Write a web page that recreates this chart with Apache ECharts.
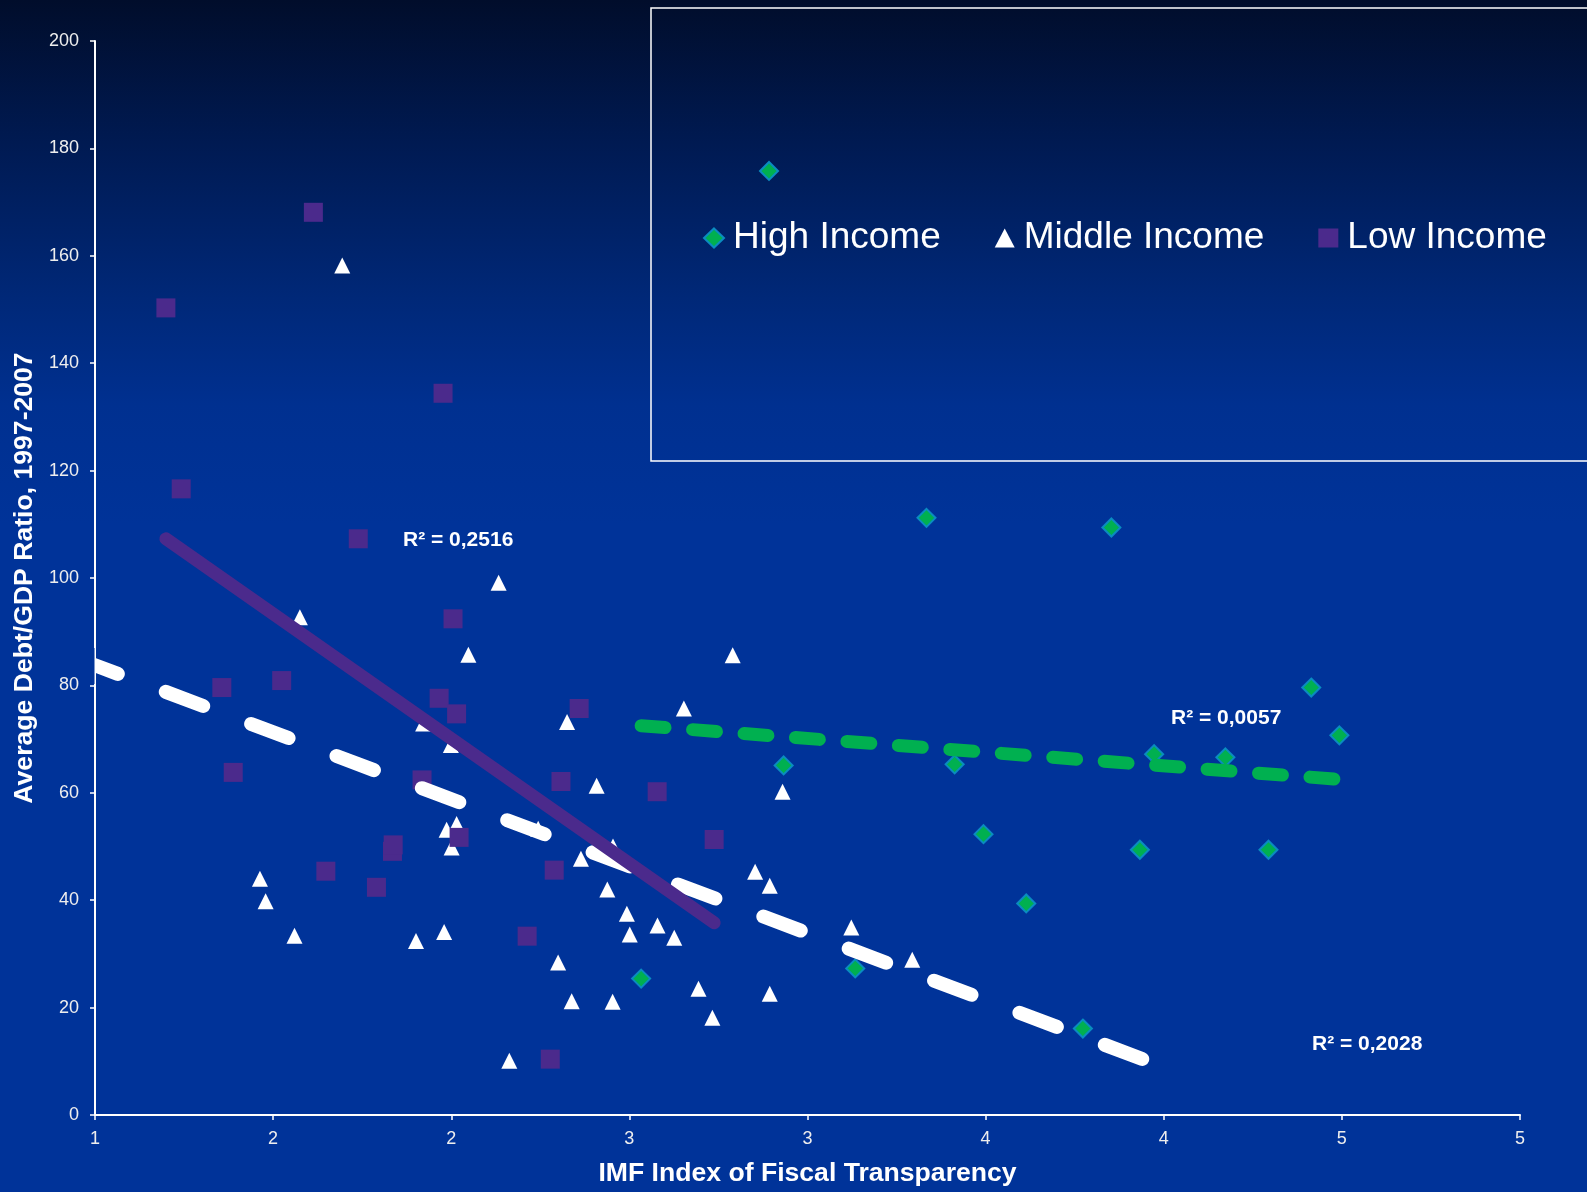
<!DOCTYPE html>
<html>
<head>
<meta charset="utf-8">
<title>Debt/GDP vs Fiscal Transparency</title>
<script src="https://cdn.jsdelivr.net/npm/echarts@6/dist/echarts.min.js"></script>
<style>
  html, body { margin: 0; padding: 0; }
  #chart {
    width: 1587px; height: 1192px;
    background: linear-gradient(to bottom, #010d2b 0%, #001a52 12%, #002878 25%, #003090 34%, #003399 44%, #003399 100%);
  }
</style>
</head>
<body>
<div id="chart"></div>
<script>
// values: [IMF index, debt/GDP]
var highIncome = [
    [2.892, 175.8], [2.533, 25.4], [2.933, 65.1], [3.134, 27.3], [3.334, 111.2], [3.413, 65.3],
    [3.494, 52.3], [3.614, 39.4], [3.773, 16.1], [3.853, 109.4], [3.933, 49.4], [3.973, 67.2],
    [4.173, 66.6], [4.294, 49.4], [4.414, 79.6], [4.493, 70.7]
];
var middleIncome = [
    [1.694, 158.2], [1.575, 92.7], [2.133, 99.1], [2.048, 85.7], [1.921, 72.9], [1.999, 68.9],
    [1.463, 44.0], [1.479, 39.8], [1.56, 33.4], [1.901, 32.4], [1.98, 34.1], [1.987, 53.1],
    [2.015, 54.2], [2.001, 49.8], [2.163, 10.1], [2.364, 47.7], [2.454, 50.0], [2.244, 53.3],
    [2.438, 42.0], [2.493, 37.5], [2.501, 33.6], [2.579, 35.3], [2.626, 33.0], [2.30, 28.4],
    [2.338, 21.2], [2.453, 21.1], [2.694, 23.5], [2.733, 18.1], [2.894, 22.6], [2.853, 45.3],
    [2.894, 42.7], [3.123, 34.9], [3.294, 28.9], [2.79, 85.6], [2.653, 75.7], [2.325, 73.2],
    [2.408, 61.3], [2.93, 60.2]
];
var lowIncome = [
    [1.199, 150.3], [1.613, 168.1], [1.977, 134.4], [1.242, 116.6], [1.739, 107.3], [2.005, 92.4],
    [1.356, 79.6], [1.524, 80.9], [1.966, 77.6], [2.015, 74.7], [1.388, 63.8], [1.918, 62.4],
    [1.648, 45.4], [1.79, 42.4], [1.835, 49.1], [1.837, 50.3], [2.022, 51.7], [2.213, 33.3],
    [2.289, 45.6], [2.738, 51.3], [2.278, 10.4], [2.359, 75.7], [2.308, 62.1], [2.578, 60.2]
];
// trendline ends
var highTrend = [[2.533, 72.5], [4.493, 62.5]];
var middleTrend = [[0.959, 84.77], [3.943, 10.35]];
var lowTrend = [[1.199, 107.3], [2.738, 35.8]];
var rSquared = ['R² = 0,2516', 'R² = 0,0057', 'R² = 0,2028'];
var xTickLabels = ['1', '2', '2', '3', '3', '4', '4', '5', '5'];
var seriesNames = ['High Income', 'Middle Income', 'Low Income'];

var font = 'Liberation Sans, Arial, sans-serif';
var purple = '#4b2a8c';
var green = '#00b050';

var option = {
    animation: false,
    backgroundColor: 'transparent',
    grid: { left: 95, right: 67, top: 41, bottom: 73 },
    legend: {
        data: [
            { name: seriesNames[0], icon: 'diamond' },
            { name: seriesNames[1], icon: 'triangle' },
            { name: seriesNames[2], icon: 'rect' }
        ],
        left: 698, top: 213,
        itemWidth: 20, itemHeight: 19, itemGap: 54,
        selectedMode: false,
        textStyle: { color: '#fff', fontSize: 37, fontFamily: font, lineHeight: 40, padding: [0, 0, 0, 4] }
    },
    xAxis: {
        type: 'value', min: 1, max: 5, interval: 0.5,
        name: 'IMF Index of Fiscal Transparency',
        nameLocation: 'middle', nameGap: 45,
        nameTextStyle: { color: '#fff', fontSize: 26.6, fontWeight: 'bold', fontFamily: font },
        axisLine: { lineStyle: { color: '#fff', width: 2 } },
        axisTick: { length: 5, lineStyle: { color: '#fff', width: 1.5 } },
        axisLabel: {
            color: '#eeeeee', fontSize: 18, fontFamily: font, margin: 15,
            formatter: function (v) { return xTickLabels[Math.round((v - 1) / 0.5)]; }
        },
        splitLine: { show: false }
    },
    yAxis: {
        type: 'value', min: 0, max: 200, interval: 20,
        name: 'Average Debt/GDP Ratio, 1997-2007',
        nameLocation: 'middle', nameGap: 52,
        nameTextStyle: { color: '#fff', fontSize: 26.6, fontWeight: 'bold', fontFamily: font },
        axisLine: { show: true, lineStyle: { color: '#fff', width: 2 } },
        axisTick: { show: true, length: 5, lineStyle: { color: '#fff', width: 1.5 } },
        axisLabel: { color: '#eeeeee', fontSize: 18, fontFamily: font, margin: 16 },
        splitLine: { show: false }
    },
    graphic: [
        {
            type: 'rect', z: 0,
            shape: { x: 651, y: 8, width: 1000, height: 453 },
            style: { fill: 'none', stroke: '#fff', lineWidth: 1.5 }
        },
        // hides the bit of the white dash that pokes out left of the y axis
        {
            type: 'rect', z: 5,
            shape: { x: 82, y: 648, width: 12.5, height: 36 },
            style: { fill: '#003399' }
        },
        { type: 'text', left: 403, top: 530, z: 10,
          style: { text: rSquared[0], fill: '#fff', font: 'bold 21px ' + font } },
        { type: 'text', left: 1171, top: 708, z: 10,
          style: { text: rSquared[1], fill: '#fff', font: 'bold 21px ' + font } },
        { type: 'text', left: 1312, top: 1034, z: 10,
          style: { text: rSquared[2], fill: '#fff', font: 'bold 21px ' + font } }
    ],
    series: [
        {
            name: seriesNames[0], type: 'scatter', data: highIncome,
            symbol: 'diamond', symbolSize: 18,
            itemStyle: { color: green, borderColor: '#0a8cc0', borderWidth: 2, opacity: 1 }
        },
        {
            name: seriesNames[1], type: 'scatter', data: middleIncome,
            symbol: 'triangle', symbolSize: 16,
            itemStyle: { color: '#fff', opacity: 1 }
        },
        {
            name: seriesNames[2], type: 'scatter', data: lowIncome,
            symbol: 'rect', symbolSize: 19,
            itemStyle: { color: purple, opacity: 1 }
        },
        {
            name: 'High trend', type: 'line', data: highTrend, symbol: 'none',
            lineStyle: { color: green, width: 13, type: [24, 27.6], cap: 'round' }
        },
        {
            name: 'Middle trend', type: 'line', data: middleTrend, symbol: 'none', clip: true,
            lineStyle: { color: '#fff', width: 14, type: [40, 51.2], cap: 'round' }
        },
        {
            name: 'Low trend', type: 'line', data: lowTrend, symbol: 'none',
            lineStyle: { color: purple, width: 13, cap: 'round' }
        }
    ]
};

var myChart = echarts.init(document.getElementById('chart'));
myChart.setOption(option);
</script>
</body>
</html>
